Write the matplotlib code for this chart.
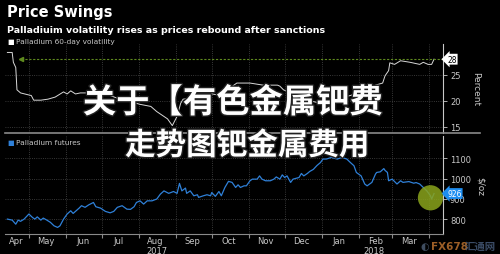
import numpy as np
import pandas as pd
import matplotlib
matplotlib.use('Agg')
import matplotlib.pyplot as plt
import matplotlib.transforms as mtrans
from matplotlib import patheffects

# 数据：以 2017-04-13 为起点的天数
start = pd.Timestamp('2017-04-13')

vol_days = [0, 4, 5, 7, 8, 11, 18, 20, 22, 28, 34, 40, 47, 50, 53, 57, 61, 69, 78, 86,
            94, 103, 111, 120, 125, 134, 138, 142, 145, 147, 156, 167, 176, 184, 192,
            203, 214, 226, 228, 231, 237, 245, 253, 262, 270, 278, 287, 293, 301, 308,
            314, 316, 319, 320, 324, 329, 337, 345, 348, 352, 355, 357]
vol_pct = [29.3, 29.3, 27.4, 26.4, 22.1, 21.5, 21.1, 21.0, 20.1, 20.1, 20.3, 20.7, 21.7,
           21.3, 21.9, 21.3, 21.5, 21.5, 21.3, 21.0, 20.3, 19.8, 19.3, 18.9, 17.9, 16.5,
           15.2, 17.0, 19.5, 20.3, 20.5, 21.5, 21.1, 22.1, 23.4, 23.4, 23.0, 23.0, 22.8,
           22.1, 21.5, 20.5, 20.0, 19.5, 19.8, 20.5, 21.0, 21.5, 22.1, 23.0, 23.4, 24.8,
           25.8, 27.3, 27.0, 27.7, 27.4, 27.0, 27.4, 27.0, 27.0, 28.0]

fut_days = [0, 4, 7, 9, 11, 14, 18, 21, 23, 25, 28, 30, 33, 36, 39, 42, 44, 47, 50, 53,
            55, 60, 62, 65, 68, 72, 74, 78, 82, 86, 89, 92, 96, 100, 103, 106, 108, 111,
            114, 117, 121, 125, 128, 131, 135, 139, 142, 144, 146, 149, 150, 153, 156,
            159, 160, 164, 167, 170, 171, 174, 177, 179, 182, 185, 188, 191, 193, 195,
            198, 200, 203, 205, 209, 211, 213, 216, 220, 223, 225, 228, 230, 232, 234,
            237, 239, 244, 246, 248, 251, 253, 256, 259, 262, 264, 267, 271, 276, 280,
            284, 287, 290, 292, 296, 299, 301, 305, 308, 309, 312, 315, 316, 318, 319,
            322, 326, 329, 331, 336, 340, 342, 345, 348, 351, 354, 355, 357]
fut_usd = [800, 795, 775, 795, 789, 800, 825, 808, 800, 811, 795, 805, 795, 784, 767, 759,
           767, 800, 825, 841, 828, 854, 866, 858, 870, 882, 861, 854, 838, 831, 838, 858,
           866, 849, 848, 861, 882, 890, 874, 890, 890, 899, 923, 939, 927, 936, 927, 976,
           939, 953, 927, 939, 915, 920, 907, 915, 920, 915, 931, 912, 936, 915, 956, 986,
           981, 956, 969, 956, 964, 964, 989, 997, 997, 1013, 997, 989, 989, 997, 1008,
           997, 1018, 1005, 1013, 981, 997, 1005, 1025, 1013, 1025, 1035, 1045, 1064, 1079,
           1096, 1096, 1104, 1096, 1104, 1096, 1079, 1063, 1030, 1013, 973, 964, 981, 1022,
           1030, 1033, 1049, 1040, 1030, 989, 997, 973, 989, 981, 985, 977, 980, 973, 956,
           939, 915, 899, 926]

vol_ticks = [15, 20, 25]
fut_ticks = [800, 900, 1000, 1100]
vol_ref = 28
fut_last = 926
month_names = ['Apr', 'May', 'Jun', 'Jul', 'Aug', 'Sep', 'Oct', 'Nov', 'Dec',
               'Jan', 'Feb', 'Mar']

vol_dates = start + pd.to_timedelta(vol_days, unit='D')
fut_dates = start + pd.to_timedelta(fut_days, unit='D')

bg = 'black'
tick_c = '#c8c8c8'
grid_c = '#4a4a4a'

fig = plt.figure(figsize=(5, 2.55), dpi=100, facecolor=bg)

x0 = start - pd.Timedelta(days=2)
x1 = start + pd.Timedelta(days=364.5)
month_starts = pd.date_range('2017-05-01', '2018-04-01', freq='MS')
label_pos = [pd.Timestamp('2017-04-20')] + [d + pd.Timedelta(days=14) for d in month_starts[:-1]]


def style_axis(ax):
    ax.set_facecolor(bg)
    for s in ['top', 'left', 'bottom']:
        ax.spines[s].set_visible(False)
    ax.spines['right'].set_color(tick_c)
    ax.spines['right'].set_linewidth(0.8)
    ax.yaxis.tick_right()
    ax.tick_params(axis='y', colors=tick_c, labelsize=6, length=3, width=0.6, pad=2)
    ax.set_xlim(x0, x1)
    ax.set_xticks(month_starts)
    ax.grid(True, color=grid_c, linestyle=':', linewidth=0.6)


# 上图：波动率
ax1 = fig.add_axes([0.01, 0.475, 0.876, 0.35])
style_axis(ax1)
ax1.plot(vol_dates, vol_pct, color='#d8d8d8', linewidth=0.7)
ax1.set_ylim(13.8, 31.0)
ax1.set_yticks(vol_ticks)
ax1.tick_params(axis='x', length=0, labelbottom=False)
ax1.plot([start + pd.Timedelta(days=11), x1], [vol_ref, vol_ref], color='#5f8a1e',
         linestyle=(0, (2, 1.5)), linewidth=0.8)
ax1.plot([start + pd.Timedelta(days=11)], [vol_ref], marker='<', markersize=3,
         color='#5f8a1e')
ax1.annotate(str(vol_ref), xy=(1.0, vol_ref), xycoords=ax1.get_yaxis_transform(),
             xytext=(3, 0), textcoords='offset points', va='center', ha='left',
             fontsize=5.5, color='black',
             bbox=dict(boxstyle='larrow,pad=0.12', fc='white', ec='none'))
ax1.text(1.075, 0.5, 'Percent', transform=ax1.transAxes, rotation=270,
         va='center', ha='center', color=tick_c, fontsize=6.5)

# 下图：期货价格
ax2 = fig.add_axes([0.01, 0.078, 0.876, 0.385])
style_axis(ax2)
ax2.plot(fut_dates, fut_usd, color='#2f80d8', linewidth=0.9)
ax2.set_ylim(726, 1210)
ax2.set_yticks(fut_ticks)
ax2.spines['bottom'].set_visible(True)
ax2.spines['bottom'].set_color('#8a8a8a')
ax2.tick_params(axis='x', which='major', length=3, color='#8a8a8a', labelbottom=False)
ax2.set_xticks(label_pos, minor=True)
ax2.set_xticklabels(month_names, minor=True)
ax2.tick_params(axis='x', which='minor', length=0, colors=tick_c, labelsize=6, pad=1.5)
ax2.scatter([fut_dates[-3]], [905], s=330, color='#8aa41c', alpha=0.85, zorder=5,
            edgecolors='none')
ax2.annotate(str(fut_last), xy=(1.0, fut_last), xycoords=ax2.get_yaxis_transform(),
             xytext=(3, 0), textcoords='offset points', va='center', ha='left',
             fontsize=5.5, color='white',
             bbox=dict(boxstyle='larrow,pad=0.12', fc='#1f8ef0', ec='none'))
ax2.text(1.085, 0.5, '$/oz', transform=ax2.transAxes, rotation=270,
         va='center', ha='center', color=tick_c, fontsize=6.5)
yr = mtrans.blended_transform_factory(ax2.transData, ax2.transAxes)
ax2.text(pd.Timestamp('2017-08-16'), -0.17, '2017', transform=yr, ha='center',
         va='center', color=tick_c, fontsize=6)
ax2.text(pd.Timestamp('2018-02-14'), -0.17, '2018', transform=yr, ha='center',
         va='center', color=tick_c, fontsize=6)

# 分隔线
fig.add_artist(plt.Line2D([0.01, 0.96], [0.474, 0.474], color='#8a8a8a', linewidth=1.2))

# 标题与图例
fig.text(0.014, 0.952, 'Price Swings', color='white', fontsize=10.5, fontweight='bold',
         va='center')
fig.text(0.014, 0.882, 'Palladiuim volatility rises as prices rebound after sanctions',
         color='white', fontsize=6.8, fontweight='bold', va='center')
fig.text(0.014, 0.834, '■', color='white', fontsize=5, va='center')
fig.text(0.032, 0.834, 'Palladium 60-day volatility', color=tick_c, fontsize=5.3,
         va='center')
fig.text(0.014, 0.44, '■', color='#2f80d8', fontsize=5, va='center')
fig.text(0.032, 0.44, 'Palladium futures', color=tick_c, fontsize=5.3, va='center')

# 覆盖文字
stroke = [patheffects.withStroke(linewidth=2, foreground='#222222')]
fig.text(0.466, 0.592, '关于【有色金属钯费', color='white', fontsize=24,
         fontweight='heavy', family=['Noto Sans CJK SC', 'DejaVu Sans'],
         ha='center', va='center', path_effects=stroke)
fig.text(0.494, 0.425, '走势图钯金属费用', color='white', fontsize=22,
         fontweight='heavy', family=['Noto Sans CJK SC', 'DejaVu Sans'],
         ha='center', va='center', path_effects=stroke)

# 水印
fig.text(0.85, 0.032, '◐', color='#5a6f8a', fontsize=7, va='center', ha='center',
         alpha=0.7, family=['DejaVu Sans'])
fig.text(0.862, 0.032, 'FX678', color='#b8702e', fontsize=7.5, fontweight='bold',
         va='center', alpha=0.85)
fig.text(0.93, 0.032, '汇通网', color='#4a6080', fontsize=7.5, fontweight='bold',
         va='center', alpha=0.8, family=['Noto Sans CJK SC', 'DejaVu Sans'])

fig.savefig('out.png', dpi=100, facecolor=bg)
